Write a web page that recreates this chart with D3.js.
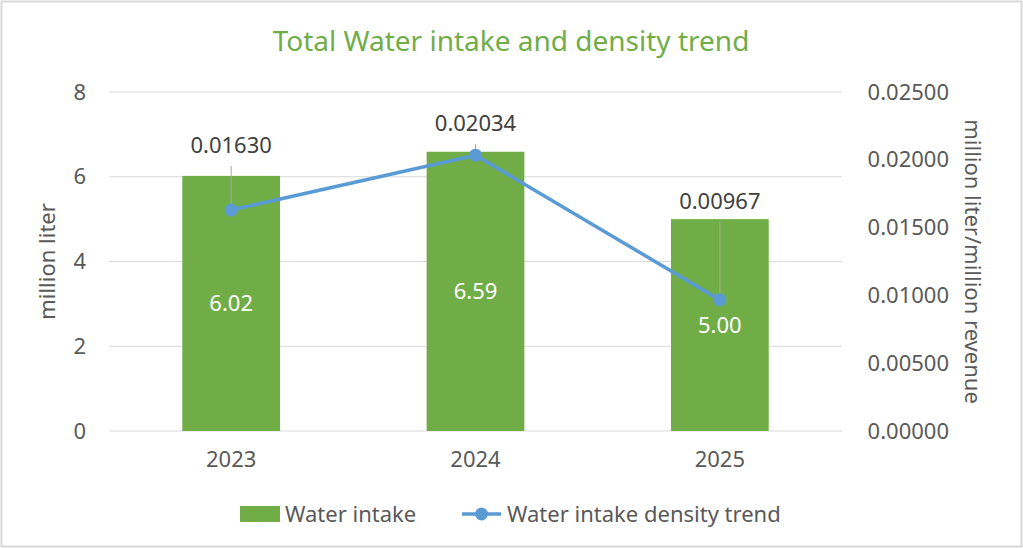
<!DOCTYPE html>
<html lang="en">
<head>
<meta charset="utf-8">
<title>Total Water intake and density trend</title>
<script src="https://cdn.jsdelivr.net/npm/d3@7"></script>
<style>
  body { margin: 0; background: #fff; }
  svg { font-family: "Noto Sans", "Open Sans", sans-serif; }
</style>
</head>
<body>
<div id="chart"></div>
<script>
const years = ["2023", "2024", "2025"];
const intake = [6.02, 6.59, 5.00];
const density = [0.01630, 0.02034, 0.00967];
const leftTicks = [0, 2, 4, 6, 8];
const rightTicks = [0, 0.005, 0.01, 0.015, 0.02, 0.025];

const width = 1023, height = 548;
const margin = {top: 92, right: 181, bottom: 117, left: 109};

const green = "#70AD47", blue = "#5B9BD5", grid = "#D9D9D9", tickColor = "#595959";
const fs = 22;

const svg = d3.select("#chart").append("svg")
  .attr("width", width).attr("height", height);

// chart border
svg.append("rect")
  .attr("x", 1.5).attr("y", 1.5)
  .attr("width", width - 3).attr("height", height - 3)
  .attr("fill", "#fff").attr("stroke", grid).attr("stroke-width", 2);

const x = d3.scaleBand().domain(years)
  .range([margin.left, width - margin.right]).paddingInner(0.6).paddingOuter(0.3);
const yL = d3.scaleLinear().domain([0, 8]).range([height - margin.bottom, margin.top]);
const yR = d3.scaleLinear().domain([0, 0.025]).range([height - margin.bottom, margin.top]);

// title
svg.append("text")
  .attr("x", 511).attr("y", 51).attr("text-anchor", "middle")
  .attr("fill", green).attr("font-size", 28)
  .text("Total Water intake and density trend");

// gridlines
svg.append("g").selectAll("line").data(leftTicks).join("line")
  .attr("x1", margin.left).attr("x2", width - margin.right)
  .attr("y1", d => yL(d)).attr("y2", d => yL(d))
  .attr("stroke", grid).attr("stroke-width", 1);

// left axis
const axL = svg.append("g").attr("transform", `translate(${margin.left - 23},0)`)
  .call(d3.axisLeft(yL).tickValues(leftTicks).tickSize(0).tickPadding(0));
axL.select(".domain").remove();
axL.selectAll("text").attr("font-size", fs).attr("fill", tickColor).attr("font-family", "Noto Sans");

// right axis
const axR = svg.append("g").attr("transform", `translate(${width - margin.right + 107},0)`)
  .call(d3.axisLeft(yR).tickValues(rightTicks).tickFormat(d3.format(".5f")).tickSize(0).tickPadding(0));
axR.select(".domain").remove();
axR.selectAll("text").attr("font-size", fs).attr("fill", tickColor).attr("font-family", "Noto Sans");

// x axis
const axX = svg.append("g").attr("transform", `translate(0,${height - margin.bottom + 12})`)
  .call(d3.axisBottom(x).tickSize(0).tickPadding(8));
axX.select(".domain").remove();
axX.selectAll("text").attr("font-size", fs).attr("fill", tickColor).attr("font-family", "Noto Sans");

// axis titles
svg.append("text")
  .attr("transform", `translate(55,${yL(4)}) rotate(-90)`)
  .attr("text-anchor", "middle").attr("font-size", fs).attr("fill", tickColor)
  .text("million liter");
svg.append("text")
  .attr("transform", `translate(965,${yL(4)}) rotate(90)`)
  .attr("text-anchor", "middle").attr("font-size", fs).attr("fill", tickColor)
  .text("million liter/million revenue");

// bars
svg.append("g").selectAll("rect").data(years).join("rect")
  .attr("x", d => x(d)).attr("width", x.bandwidth())
  .attr("y", (d, i) => yL(intake[i]))
  .attr("height", (d, i) => yL(0) - yL(intake[i]))
  .attr("fill", green);

// bar labels
svg.append("g").selectAll("text").data(years).join("text")
  .attr("x", d => x(d) + x.bandwidth() / 2)
  .attr("y", (d, i) => (yL(intake[i]) + yL(0)) / 2 + 8)
  .attr("text-anchor", "middle").attr("font-size", fs).attr("fill", "#fff")
  .text((d, i) => intake[i].toFixed(2));

// line label offsets (px from point up to label baseline)
const labelLift = [57, 24, 91];
const cx = d => x(d) + x.bandwidth() / 2;

// leader lines
svg.append("g").selectAll("line").data(years).join("line")
  .attr("x1", d => cx(d)).attr("x2", d => cx(d))
  .attr("y1", (d, i) => yR(density[i]) - labelLift[i] + 13)
  .attr("y2", (d, i) => yR(density[i]))
  .attr("stroke", "#A6A6A6").attr("stroke-width", 1);

// line
const line = d3.line().x(d => cx(d)).y((d, i) => yR(density[i]));
svg.append("path").datum(years)
  .attr("d", line).attr("fill", "none")
  .attr("stroke", blue).attr("stroke-width", 3.5).attr("stroke-linejoin", "round");

svg.append("g").selectAll("circle").data(years).join("circle")
  .attr("cx", d => cx(d)).attr("cy", (d, i) => yR(density[i]))
  .attr("r", 6.5).attr("fill", blue);

// line labels
svg.append("g").selectAll("text").data(years).join("text")
  .attr("x", d => cx(d))
  .attr("y", (d, i) => yR(density[i]) - labelLift[i])
  .attr("text-anchor", "middle").attr("font-size", fs).attr("fill", "#404040")
  .text((d, i) => density[i].toFixed(5));

// legend
const lg = svg.append("g").attr("transform", "translate(0,514)");
lg.append("rect").attr("x", 240).attr("y", -8).attr("width", 40).attr("height", 16).attr("fill", green);
lg.append("text").attr("x", 285).attr("y", 8).attr("font-size", fs).attr("fill", tickColor).text("Water intake");
lg.append("line").attr("x1", 462).attr("x2", 501).attr("y1", 0).attr("y2", 0)
  .attr("stroke", blue).attr("stroke-width", 3.5);
lg.append("circle").attr("cx", 481.5).attr("cy", 0).attr("r", 6.5).attr("fill", blue);
lg.append("text").attr("x", 507).attr("y", 8).attr("font-size", fs).attr("fill", tickColor).text("Water intake density trend");
</script>
</body>
</html>
